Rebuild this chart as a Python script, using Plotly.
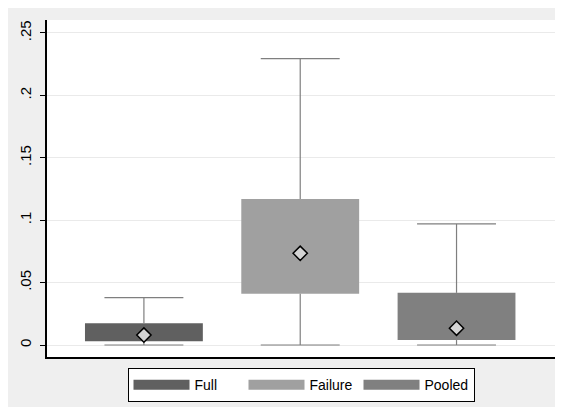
import plotly.graph_objects as go

groups = ["Full", "Failure", "Pooled"]
q1 = [0.0030, 0.0410, 0.0040]
q3 = [0.0175, 0.1170, 0.0418]
lower = [0.0, 0.0, 0.0]
upper = [0.0380, 0.2295, 0.0970]
means = [0.0080, 0.0735, 0.0135]
colors = ["#606060", "#a0a0a0", "#808080"]
yticks = [0, 0.05, 0.1, 0.15, 0.2, 0.25]
yticklabels = ["0", ".05", ".1", ".15", ".2", ".25"]

xpos = list(range(len(groups)))
box_w = 0.754
cap_half = 0.2525

fig = go.Figure()

# boxes
for i, g in enumerate(groups):
    fig.add_trace(go.Bar(
        x=[xpos[i]], y=[q3[i] - q1[i]], base=[q1[i]], width=box_w,
        marker=dict(color=colors[i], line=dict(width=0)),
        name=g, showlegend=False, hoverinfo="skip",
    ))

# legend entries (wide swatches)
for i, g in enumerate(groups):
    fig.add_trace(go.Scatter(
        x=[None], y=[None], mode="lines", name=g,
        line=dict(color=colors[i], width=16), showlegend=True, hoverinfo="skip",
    ))

# whiskers + caps
wx, wy = [], []
for i in xpos:
    wx += [i, i, None, i, i, None, i - cap_half, i + cap_half, None, i - cap_half, i + cap_half, None]
    wy += [q3[i], upper[i], None, q1[i], lower[i], None, upper[i], upper[i], None, lower[i], lower[i], None]
fig.add_trace(go.Scatter(x=wx, y=wy, mode="lines", line=dict(color="#7f7f7f", width=1.2),
                         showlegend=False, hoverinfo="skip"))

# means
fig.add_trace(go.Scatter(x=xpos, y=means, mode="markers",
                         marker=dict(symbol="diamond", size=11, color="#d4d4d4",
                                     line=dict(color="black", width=1.5)),
                         showlegend=False, hoverinfo="skip"))

fig.update_layout(
    width=555, height=404,
    margin=dict(l=39, r=8, t=12, b=55),
    paper_bgcolor="white",
    plot_bgcolor="white",
    font=dict(family="Liberation Sans, Arial, sans-serif", size=12, color="black"),
    barmode="overlay",
    shapes=[
        dict(type="rect", xref="paper", yref="paper", x0=-0.0807, x1=1.004, y0=-0.148, y1=1.0445,
             fillcolor="#efefef", line=dict(width=0), layer="below"),
        dict(type="rect", xref="paper", yref="paper", x0=0, x1=1, y0=0, y1=1,
             fillcolor="white", line=dict(width=0), layer="below"),
    ],
    legend=dict(orientation="h", x=0.5, xanchor="center", y=-0.033, yanchor="top",
                bgcolor="white", bordercolor="black", borderwidth=1,
                font=dict(size=14), itemwidth=56, entrywidth=44, entrywidthmode="pixels",
                traceorder="normal", tracegroupgap=0),
    xaxis=dict(range=[-0.62, 2.63], showticklabels=False, ticks="", showgrid=False,
               zeroline=False, showline=True, linecolor="black", linewidth=1.5),
    yaxis=dict(range=[-0.0096, 0.2604], tickvals=yticks, ticktext=yticklabels,
               tickangle=-90, ticks="outside", ticklen=5, tickcolor="black",
               ticklabelstandoff=3,
               showgrid=True, gridcolor="#eaeaea", gridwidth=1, zeroline=False,
               showline=True, linecolor="black", linewidth=1.5, tickfont=dict(size=15)),
)

fig.write_html("out.html")
